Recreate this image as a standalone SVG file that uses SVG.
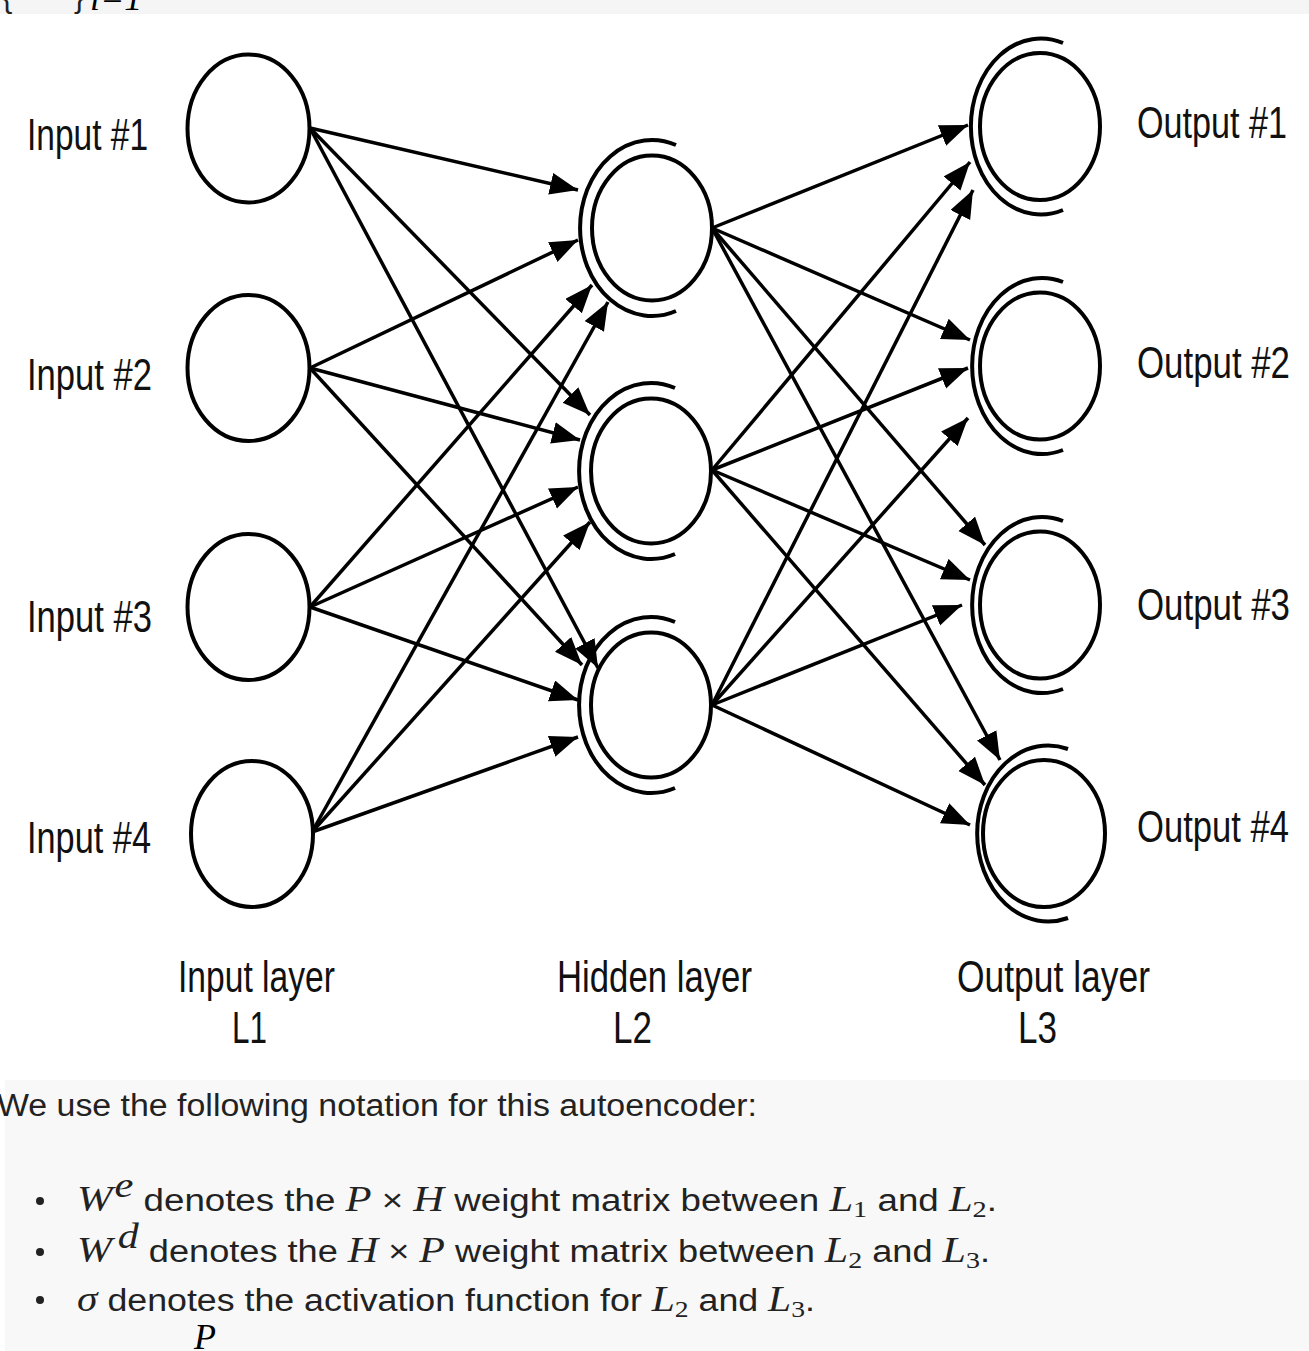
<svg xmlns="http://www.w3.org/2000/svg" width="1309" height="1351" viewBox="0 0 1309 1351">
<defs>
<style>
.node{fill:#fff;stroke:#000;stroke-width:4}
.arc{fill:none;stroke:#000;stroke-width:4}
.conn{stroke:#000;stroke-width:3.5;fill:none;marker-end:url(#ah)}
.lbl{font-family:"Liberation Sans",Arial,sans-serif;font-size:44px;fill:#111}
.txt{font-family:"Liberation Sans",Arial,sans-serif;font-size:31px;fill:#222}
.m{font-family:"Liberation Serif","Times New Roman",serif;font-style:italic;font-size:36px}
.r{font-family:"Liberation Serif","Times New Roman",serif;font-size:24px}
</style>
<marker id="ah" markerUnits="userSpaceOnUse" markerWidth="30" markerHeight="24" refX="28" refY="11" orient="auto">
<path d="M0,0 L28,11 L0,22 z" fill="#000"/>
</marker>
</defs>
<rect x="0" y="0" width="1309" height="1351" fill="#fff"/>
<rect x="0" y="0" width="1309" height="14" fill="#f5f5f5"/>
<text x="2" y="7" class="txt" font-size="20">{</text>
<text x="74" y="7" class="txt" font-size="20">}</text>
<text x="90" y="10" class="m" font-size="16">i=1</text>
<rect x="5" y="1080" width="1304" height="271" fill="#f8f8f8"/>

<g id="connectors">
<line class="conn" x1="310" y1="128" x2="578" y2="190"/>
<line class="conn" x1="310" y1="128" x2="590" y2="415"/>
<line class="conn" x1="310" y1="128" x2="598" y2="668"/>
<line class="conn" x1="310" y1="368" x2="578" y2="240"/>
<line class="conn" x1="310" y1="368" x2="580" y2="440"/>
<line class="conn" x1="310" y1="368" x2="582" y2="665"/>
<line class="conn" x1="310" y1="607" x2="592" y2="285"/>
<line class="conn" x1="310" y1="607" x2="578" y2="487"/>
<line class="conn" x1="310" y1="607" x2="578" y2="700"/>
<line class="conn" x1="312" y1="832" x2="608" y2="302"/>
<line class="conn" x1="312" y1="832" x2="590" y2="522"/>
<line class="conn" x1="312" y1="832" x2="578" y2="737"/>
<line class="conn" x1="712" y1="228" x2="968" y2="125"/>
<line class="conn" x1="712" y1="228" x2="970" y2="340"/>
<line class="conn" x1="712" y1="228" x2="985" y2="545"/>
<line class="conn" x1="712" y1="228" x2="1000" y2="760"/>
<line class="conn" x1="712" y1="470" x2="970" y2="162"/>
<line class="conn" x1="712" y1="470" x2="968" y2="368"/>
<line class="conn" x1="712" y1="470" x2="970" y2="580"/>
<line class="conn" x1="712" y1="470" x2="985" y2="785"/>
<line class="conn" x1="712" y1="705" x2="973" y2="190"/>
<line class="conn" x1="712" y1="705" x2="968" y2="418"/>
<line class="conn" x1="712" y1="705" x2="962" y2="605"/>
<line class="conn" x1="712" y1="705" x2="970" y2="825"/>
</g>

<g id="in1"><ellipse class="node" cx="248.5" cy="128.5" rx="61" ry="74"/><text class="lbl" x="27" y="150" textLength="121" lengthAdjust="spacingAndGlyphs">Input #1</text></g>
<g id="in2"><ellipse class="node" cx="248.5" cy="368" rx="61" ry="73"/><text class="lbl" x="27" y="390" textLength="125" lengthAdjust="spacingAndGlyphs">Input #2</text></g>
<g id="in3"><ellipse class="node" cx="248.5" cy="607" rx="61" ry="73"/><text class="lbl" x="27" y="632" textLength="125" lengthAdjust="spacingAndGlyphs">Input #3</text></g>
<g id="in4"><ellipse class="node" cx="252" cy="834" rx="61" ry="73"/><text class="lbl" x="27" y="853" textLength="124" lengthAdjust="spacingAndGlyphs">Input #4</text></g>

<g id="h1"><ellipse class="node" cx="652" cy="228" rx="60" ry="72.5"/><path class="arc" d="M676,145 A72 88 0 1 0 676,311"/></g>
<g id="h2"><ellipse class="node" cx="651" cy="471" rx="60" ry="72.5"/><path class="arc" d="M675,388 A72 88 0 1 0 675,554"/></g>
<g id="h3"><ellipse class="node" cx="651" cy="705" rx="60" ry="72.5"/><path class="arc" d="M675,622 A72 88 0 1 0 675,788"/></g>

<g id="o1"><ellipse class="node" cx="1040" cy="126.5" rx="60" ry="73.5"/><path class="arc" d="M1063,43 A70 88 0 1 0 1063,210"/><text class="lbl" x="1137" y="138" textLength="150" lengthAdjust="spacingAndGlyphs">Output #1</text></g>
<g id="o2"><ellipse class="node" cx="1040" cy="366" rx="60" ry="73.5"/><path class="arc" d="M1063,282 A70 88 0 1 0 1063,450"/><text class="lbl" x="1137" y="378" textLength="153" lengthAdjust="spacingAndGlyphs">Output #2</text></g>
<g id="o3"><ellipse class="node" cx="1040" cy="605" rx="60" ry="73.5"/><path class="arc" d="M1063,521 A70 88 0 1 0 1063,689"/><text class="lbl" x="1137" y="620" textLength="153" lengthAdjust="spacingAndGlyphs">Output #3</text></g>
<g id="o4"><ellipse class="node" cx="1044" cy="833.5" rx="61" ry="73.5"/><path class="arc" d="M1068,749 A71 88 0 1 0 1068,918"/><text class="lbl" x="1137" y="842" textLength="152" lengthAdjust="spacingAndGlyphs">Output #4</text></g>

<g id="layer-labels">
<text class="lbl" x="178" y="992" textLength="157" lengthAdjust="spacingAndGlyphs">Input layer</text>
<text class="lbl" x="232" y="1043" textLength="35" lengthAdjust="spacingAndGlyphs">L1</text>
<text class="lbl" x="557" y="992" textLength="195" lengthAdjust="spacingAndGlyphs">Hidden layer</text>
<text class="lbl" x="613" y="1043" textLength="39" lengthAdjust="spacingAndGlyphs">L2</text>
<text class="lbl" x="957" y="992" textLength="193" lengthAdjust="spacingAndGlyphs">Output layer</text>
<text class="lbl" x="1018" y="1043" textLength="39" lengthAdjust="spacingAndGlyphs">L3</text>
</g>

<g id="notes">
<text class="txt" x="-3" y="1116" textLength="760" lengthAdjust="spacingAndGlyphs">We use the following notation for this autoencoder:</text>
<circle cx="40" cy="1201" r="4" fill="#222"/>
<circle cx="40" cy="1252" r="4" fill="#222"/>
<circle cx="40" cy="1300" r="4" fill="#222"/>
<text class="txt" x="77" y="1211" textLength="920" lengthAdjust="spacingAndGlyphs"><tspan class="m">W</tspan><tspan class="m" font-size="19" dx="5" dy="-14">e</tspan><tspan dy="14"> denotes the </tspan><tspan class="m">P</tspan><tspan> × </tspan><tspan class="m">H</tspan><tspan> weight matrix between </tspan><tspan class="m">L</tspan><tspan class="r" dy="6">1</tspan><tspan dy="-6"> and  </tspan><tspan class="m">L</tspan><tspan class="r" dy="6">2</tspan><tspan dy="-6">.</tspan></text>
<text class="txt" x="77" y="1262" textLength="913" lengthAdjust="spacingAndGlyphs"><tspan class="m">W</tspan><tspan class="m" font-size="19" dx="5" dy="-14">d</tspan><tspan dy="14"> denotes the </tspan><tspan class="m">H</tspan><tspan> × </tspan><tspan class="m">P</tspan><tspan> weight matrix between </tspan><tspan class="m">L</tspan><tspan class="r" dy="6">2</tspan><tspan dy="-6"> and </tspan><tspan class="m">L</tspan><tspan class="r" dy="6">3</tspan><tspan dy="-6">.</tspan></text>
<text class="txt" x="77" y="1311" textLength="738" lengthAdjust="spacingAndGlyphs"><tspan class="m">σ</tspan><tspan> denotes the activation function for  </tspan><tspan class="m">L</tspan><tspan class="r" dy="6">2</tspan><tspan dy="-6"> and </tspan><tspan class="m">L</tspan><tspan class="r" dy="6">3</tspan><tspan dy="-6">.</tspan></text>
<text class="m" x="194" y="1349" font-size="26">P</text>
</g>
</svg>
